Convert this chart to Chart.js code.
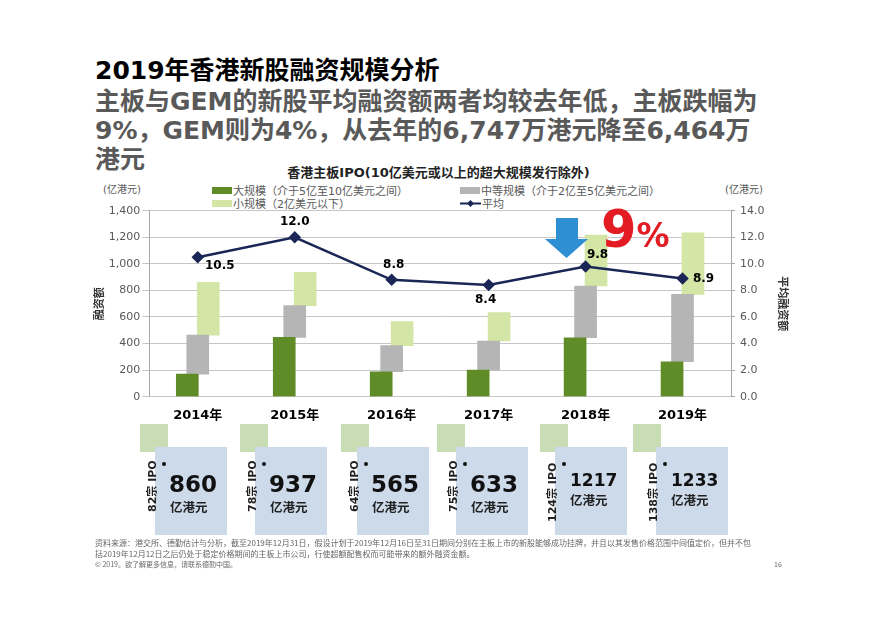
<!DOCTYPE html>
<html>
<head>
<meta charset="utf-8">
<script src="https://cdn.jsdelivr.net/npm/chart.js@4.4.1/dist/chart.umd.min.js"></script>
<style>
  body { margin: 0; width: 877px; height: 620px; background: #fff; position: relative; overflow: hidden;
         font-family: "DejaVu Sans", "Noto Sans CJK SC", sans-serif; }
  .abs { position: absolute; white-space: nowrap; }
  .title { left: 95px; top: 56px; font-size: 25px; font-weight: bold; color: #000; line-height: 30px; }
  .sub { left: 95px; top: 87px; font-size: 25px; font-weight: bold; color: #595959; line-height: 29px; }
  .ctitle { left: 0; width: 877px; top: 162px; text-align: center; font-size: 13px; font-weight: bold; color: #222; }
  .unit { font-size: 10px; color: #595959; top: 181px; }
  .leg { font-size: 11px; color: #595959; display: flex; align-items: center; }
  .leg i { display: inline-block; width: 20px; height: 7px; margin-right: 1px; }
  #chartWrap { position: absolute; left: 90px; top: 195px; width: 702px; height: 230px; }
  .sq { position: absolute; width: 28px; height: 28px; background: #c8ddb3; top: 424px; }
  .box { position: absolute; width: 72px; height: 88px; background: #cddaea; top: 447px; }
  .ipo { position: absolute; transform: rotate(-90deg); transform-origin: left top; font-size: 11px; font-weight: bold; color: #222; white-space: nowrap; }
  .num { position: absolute; font-weight: bold; color: #111; }
  .yi { position: absolute; font-size: 12.5px; font-weight: bold; color: #222; font-family: "Noto Sans CJK SC", sans-serif; }
  .dot { position: absolute; width: 4px; height: 4px; border-radius: 2px; background: #111; }
  .foot { left: 95px; font-size: 8px; color: #666; font-family: "Noto Sans CJK SC", sans-serif; }
</style>
</head>
<body>

<div class="abs title">2019年香港新股融资规模分析</div>
<div class="abs sub">主板与GEM的新股平均融资额两者均较去年低，主板跌幅为<br>9%，GEM则为4%，从去年的6,747万港元降至6,464万<br>港元</div>
<div class="abs ctitle">香港主板IPO(10亿美元或以上的超大规模发行除外)</div>

<div class="abs unit" style="left:103px">(亿港元)</div>
<div class="abs unit" style="left:725px">(亿港元)</div>

<div class="abs leg" style="left:212px; top:182px"><i style="background:#608c28"></i>大规模（介于5亿至10亿美元之间）</div>
<div class="abs leg" style="left:460px; top:182px"><i style="background:#b5b5b5"></i>中等规模（介于2亿至5亿美元之间）</div>
<div class="abs leg" style="left:212px; top:195px"><i style="background:#d3e6a5"></i>小规模（2亿美元以下）</div>
<div class="abs leg" style="left:460px; top:195px">
  <svg width="21" height="9" style="margin-right:1px"><line x1="0" y1="4.5" x2="21" y2="4.5" stroke="#1a2655" stroke-width="2"/><polygon points="10.5,1 14,4.5 10.5,8 7,4.5" fill="#1a2655"/></svg>平均</div>

<div id="chartWrap"><canvas id="ipoChart"></canvas></div>

<svg class="abs" style="left:540px; top:212px" width="56" height="50">
  <polygon points="16,6 38,6 38,27 48,27 26.5,46 5,27 16,27" fill="#2f8fd3"/>
</svg>
<div class="abs" style="left:601px; top:200px; color:#e31b23; font-weight:bold; font-family:'DejaVu Sans';">
  <span style="font-size:51px">9</span><span style="font-size:33px">%</span>
</div>

<div id="boxes"></div>

<div class="abs foot" style="top:537px">资料来源：港交所、德勤估计与分析，截至2019年12月31日，假设计划于2019年12月16日至31日期间分别在主板上市的新股能够成功挂牌，并且以其发售价格范围中间值定价，但并不包</div>
<div class="abs foot" style="top:548px">括2019年12月12日之后仍处于稳定价格期间的主板上市公司，行使超额配售权而可能带来的额外融资金额。</div>
<div class="abs foot" style="top:559px; font-size:7px">© 2019。欲了解更多信息，请联系德勤中国。</div>
<div class="abs foot" style="top:559px; left:774px; font-size:7px">16</div>

<script>
// data (亿港元 / 宗)
const years = ['2014年', '2015年', '2016年', '2017年', '2018年', '2019年'];
const largeVals = [170, 447, 188, 201, 444, 263];   // 大规模
const mediumVals = [294, 238, 196, 218, 389, 507];  // 中等规模
const smallVals = [396, 252, 181, 214, 384, 463];   // 小规模
const avgVals = [10.5, 12.0, 8.8, 8.4, 9.8, 8.9];   // 平均 (right axis)
const totalVals = [860, 937, 565, 633, 1217, 1233];
const ipoCounts = [82, 78, 64, 75, 124, 138];
const leftTicks = [0, 200, 400, 600, 800, 1000, 1200, 1400];
const rightTicks = [0, 2, 4, 6, 8, 10, 12, 14];

// layout for the floating bars and labels
const barShift = 0.108;
const labelOffsets = [[22, 9], [0, -15], [2, -15], [-3, 15], [12, -12], [21, 0]];

const C = {
  large: '#608c28',
  medium: '#b5b5b5',
  small: '#d3e6a5',
  line: '#1a2655',
  grid: '#c6c6c6',
  tick: '#595959'
};

// floating segments: each band sits on top of the previous one
const largeData = years.map((_, i) => ({ x: i - barShift, y: [0, largeVals[i]] }));
const mediumData = years.map((_, i) => ({ x: i, y: [largeVals[i], largeVals[i] + mediumVals[i]] }));
const smallData = years.map((_, i) => {
  const base = largeVals[i] + mediumVals[i];
  return { x: i + barShift, y: [base, base + smallVals[i]] };
});
const avgData = years.map((_, i) => ({ x: i, y: avgVals[i] }));

const pointLabels = {
  id: 'pointLabels',
  afterDatasetsDraw(chart) {
    const meta = chart.getDatasetMeta(3);
    const ctx = chart.ctx;
    ctx.save();
    ctx.font = 'bold 12px "DejaVu Sans"';
    ctx.fillStyle = '#000';
    ctx.textAlign = 'center';
    ctx.textBaseline = 'middle';
    meta.data.forEach((pt, i) => {
      ctx.fillText(avgVals[i].toFixed(1), pt.x + labelOffsets[i][0], pt.y + labelOffsets[i][1]);
    });
    ctx.restore();
  }
};

const barCommon = { type: 'bar', grouped: false, barThickness: 22, borderWidth: 0, yAxisID: 'y', order: 1 };

new Chart(document.getElementById('ipoChart'), {
  data: {
    datasets: [
      { ...barCommon, label: '大规模', data: largeData, backgroundColor: C.large },
      { ...barCommon, label: '中等规模', data: mediumData, backgroundColor: C.medium },
      { ...barCommon, label: '小规模', data: smallData, backgroundColor: C.small },
      {
        type: 'line', label: '平均', data: avgData, yAxisID: 'y2', order: 0,
        borderColor: C.line, backgroundColor: C.line, borderWidth: 2.5,
        pointStyle: 'rectRot', pointRadius: 4.5, pointHoverRadius: 4.5, tension: 0
      }
    ]
  },
  options: {
    responsive: true,
    maintainAspectRatio: false,
    animation: false,
    layout: { padding: { top: 15.7, left: 0, right: 0, bottom: 0 } },
    plugins: { legend: { display: false }, tooltip: { enabled: false } },
    scales: {
      x: {
        type: 'linear', min: -0.5, max: 5.5, offset: false,
        afterBuildTicks: s => { s.ticks = years.map((_, i) => ({ value: i })); },
        afterFit: s => { s.height = 28.3; },
        grid: { display: false },
        border: { color: C.grid },
        ticks: {
          autoSkip: false, maxRotation: 0, padding: 3, color: '#000',
          font: { family: 'DejaVu Sans, Noto Sans CJK SC', size: 13, weight: 'bold' },
          callback: v => years[v]
        }
      },
      y: {
        position: 'left', min: 0, max: 1400,
        afterBuildTicks: s => { s.ticks = leftTicks.map(v => ({ value: v })); },
        afterFit: s => { s.width = 59.3; },
        grid: { color: C.grid, tickLength: 7 },
        border: { color: '#a6a6a6' },
        ticks: {
          padding: 2, color: C.tick, font: { family: 'DejaVu Sans', size: 11 },
          callback: v => v.toLocaleString('en-US')
        },
        title: { display: true, text: '融资额', color: '#333', padding: 2,
                 font: { family: 'Noto Sans CJK SC', size: 11, weight: 'bold' } }
      },
      y2: {
        position: 'right', min: 0, max: 14,
        afterBuildTicks: s => { s.ticks = rightTicks.map(v => ({ value: v })); },
        afterFit: s => { s.width = 61; },
        grid: { drawOnChartArea: false, color: '#a6a6a6', tickLength: 4 },
        border: { color: '#a6a6a6' },
        ticks: {
          padding: 5, color: C.tick, font: { family: 'DejaVu Sans', size: 11 },
          callback: v => v.toFixed(1)
        },
        title: { display: true, text: '平均融资额', color: '#333', padding: 2,
                 font: { family: 'Noto Sans CJK SC', size: 11, weight: 'bold' } }
      }
    }
  },
  plugins: [pointLabels]
});

// summary boxes under the chart
const sqLeft = [140, 240, 341, 437, 540, 633];
const boxLeft = [155, 255, 357, 456, 555, 656];
document.getElementById('boxes').innerHTML = years.map((_, i) => {
  const b = boxLeft[i];
  const big = String(totalVals[i]).length < 4;
  return `
    <div class="sq" style="left:${sqLeft[i]}px"></div>
    <div class="box" style="left:${b}px"></div>
    <div class="ipo" style="left:${b - 12}px; top:${big ? 512 : 522}px">${ipoCounts[i]}宗 IPO</div>
    <div class="dot" style="left:${b + 7}px; top:462px"></div>
    <div class="num" style="left:${b + (big ? 14 : 15)}px; top:${big ? 471 : 470}px; font-size:${big ? 23 : 17}px">${totalVals[i]}</div>
    <div class="yi" style="left:${b + 15}px; top:${big ? 497 : 490}px">亿港元</div>`;
}).join('');
</script>
</body>
</html>
